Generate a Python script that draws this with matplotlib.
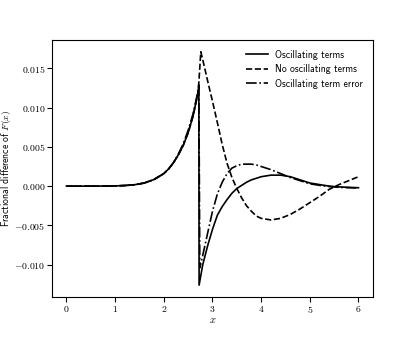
import matplotlib
matplotlib.use('Agg')
import matplotlib.pyplot as plt
from matplotlib.ticker import FuncFormatter

plt.rcParams['mathtext.fontset'] = 'cm'

# значения
x_osc = [0.0, 0.25, 0.5, 0.75, 1.0, 1.2, 1.4, 1.6, 1.8, 2.0, 2.1, 2.2, 2.3, 2.4, 2.5, 2.6, 2.7, 2.72,
         2.725, 2.8, 2.9, 3.0, 3.1, 3.2, 3.3, 3.4, 3.5, 3.6, 3.7, 3.8, 3.9, 4.0, 4.2, 4.4, 4.6, 4.8,
         5.0, 5.2, 5.4, 5.6, 5.8, 6.0]
y_osc = [0.0, 0.0, 0.0, 0.00001, 0.00003, 0.00008, 0.00018, 0.0004, 0.00085, 0.0016, 0.0022, 0.0030,
         0.0040, 0.0052, 0.0068, 0.0089, 0.0118, 0.0129,
         -0.0126, -0.0100, -0.0076, -0.0055, -0.0037, -0.0026, -0.0017, -0.0009, -0.0003, 0.0001,
         0.0005, 0.0008, 0.0010, 0.0012, 0.0014, 0.0014, 0.0012, 0.0008, 0.0004, 0.0002, 0.0,
         -0.0001, -0.00015, -0.0002]

x_noosc = [0.0, 0.25, 0.5, 0.75, 1.0, 1.2, 1.4, 1.6, 1.8, 2.0, 2.1, 2.2, 2.3, 2.4, 2.5, 2.6, 2.7, 2.72,
           2.76, 2.8, 2.9, 3.0, 3.1, 3.2, 3.3, 3.4, 3.5, 3.6, 3.7, 3.8, 3.9, 4.0, 4.2, 4.4, 4.6, 4.8,
           5.0, 5.2, 5.4, 5.6, 5.8, 6.0]
y_noosc = [0.0, 0.0, 0.0, 0.00001, 0.00003, 0.00008, 0.00018, 0.0004, 0.00085, 0.0016, 0.0022, 0.0030,
           0.0040, 0.0052, 0.0068, 0.0089, 0.0118, 0.0132,
           0.0171, 0.0161, 0.0134, 0.0108, 0.0081, 0.0053, 0.0029, 0.0011, -0.0003, -0.0015,
           -0.0025, -0.0032, -0.0038, -0.0041, -0.0043, -0.0041, -0.0036, -0.0029, -0.0021,
           -0.0013, -0.0004, 0.0002, 0.0007, 0.0012]

x_err = [0.0, 0.25, 0.5, 0.75, 1.0, 1.2, 1.4, 1.6, 1.8, 2.0, 2.1, 2.2, 2.3, 2.4, 2.5, 2.6, 2.7, 2.72,
         2.74, 2.8, 2.9, 3.0, 3.1, 3.2, 3.3, 3.4, 3.5, 3.6, 3.7, 3.8, 3.9, 4.0, 4.2, 4.4, 4.6, 4.8,
         5.0, 5.2, 5.4, 5.6, 5.8, 6.0]
y_err = [0.0, 0.0, 0.0, 0.00001, 0.00003, 0.00008, 0.00018, 0.0004, 0.00085, 0.0016, 0.0022, 0.0030,
         0.0041, 0.0054, 0.0071, 0.0092, 0.0120, 0.0127,
         -0.0104, -0.0088, -0.0060, -0.0032, -0.0010, 0.0005, 0.0016, 0.0023, 0.0026, 0.0028,
         0.0028, 0.0028, 0.0027, 0.0025, 0.0021, 0.0016, 0.0011, 0.0007, 0.0003, 0.0001,
         -0.00005, -0.00015, -0.0002, -0.00025]

x_ticks = [0, 1, 2, 3, 4, 5, 6]
y_ticks = [-0.010, -0.005, 0.0, 0.005, 0.010, 0.015]

fig = plt.figure(figsize=(4.15, 3.4), dpi=100)
ax = fig.add_axes([0.125, 0.127, 0.774, 0.755])

lw = 1.2
ax.plot(x_osc, y_osc, color='black', lw=lw, ls='-', label='Oscillating terms')
ax.plot(x_noosc, y_noosc, color='black', lw=lw, ls='--', label='No oscillating terms')
ax.plot(x_err, y_err, color='black', lw=lw, ls='-.', label='Oscillating term error')

ax.set_xticks(x_ticks)
ax.set_yticks(y_ticks)
ax.xaxis.set_major_formatter(FuncFormatter(lambda v, p: f'${v:.0f}$'))
ax.yaxis.set_major_formatter(FuncFormatter(lambda v, p: f'${v:.3f}$'))
ax.tick_params(axis='both', labelsize=7, length=3.5, width=0.8)
ax.tick_params(axis='x', pad=2)
ax.tick_params(axis='y', pad=1)

ax.set_xlabel('$x$', fontsize=7.5, labelpad=0)
ax.set_ylabel('Fractional difference of $F(x)$', fontsize=7, family='cmss10')
ax.yaxis.set_label_coords(-0.12, 0.5)

# легенда без рамки, плотнее по вертикали
leg = ax.legend(loc='upper right', frameon=False, prop={'family': 'cmss10', 'size': 7},
                handlelength=2.2, labelspacing=0.45, borderaxespad=0.6)

fig.savefig('out.png', dpi=100)
